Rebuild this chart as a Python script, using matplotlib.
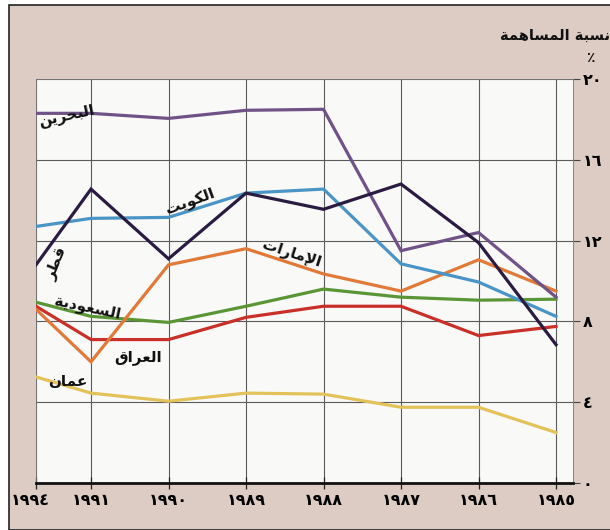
import matplotlib
matplotlib.use("Agg")
import matplotlib.pyplot as plt
import matplotlib.transforms as mtransforms
from matplotlib.patches import Rectangle

# contribution share (%) by country, 1994 first then 1991 ... 1985
years = ['١٩٩٤', '١٩٩١', '١٩٩٠', '١٩٨٩', '١٩٨٨', '١٩٨٧', '١٩٨٦', '١٩٨٥']
bahrain = [18.3, 18.3, 18.05, 18.45, 18.5, 11.5, 12.4, 9.2]
qatar = [10.8, 14.55, 11.1, 14.35, 13.55, 14.8, 11.9, 6.85]
kuwait = [12.7, 13.1, 13.15, 14.35, 14.55, 10.85, 9.95, 8.25]
uae = [8.6, 6.0, 10.8, 11.6, 10.35, 9.5, 11.05, 9.5]
saudi = [8.95, 8.25, 7.95, 8.75, 9.6, 9.2, 9.05, 9.1]
iraq = [8.75, 7.1, 7.1, 8.2, 8.75, 8.75, 7.3, 7.75]
oman = [5.25, 4.45, 4.05, 4.45, 4.4, 3.75, 3.75, 2.5]
yticks = [0, 4, 8, 12, 16, 20]
ylabels = ['٠', '٤', '٨', '١٢', '١٦', '٢٠']

# --- tiny arabic shaper: matplotlib has no RTL/joining support ---
# (isolated, final, initial, medial)
FORMS = {
    'ا': ('\uFE8D', '\uFE8E', None, None),
    'إ': ('\uFE87', '\uFE88', None, None),
    'ب': ('\uFE8F', '\uFE90', '\uFE91', '\uFE92'),
    'ة': ('\uFE93', '\uFE94', None, None),
    'ت': ('\uFE95', '\uFE96', '\uFE97', '\uFE98'),
    'ح': ('\uFEA1', '\uFEA2', '\uFEA3', '\uFEA4'),
    'د': ('\uFEA9', '\uFEAA', None, None),
    'ر': ('\uFEAD', '\uFEAE', None, None),
    'س': ('\uFEB1', '\uFEB2', '\uFEB3', '\uFEB4'),
    'ط': ('\uFEC1', '\uFEC2', '\uFEC3', '\uFEC4'),
    'ع': ('\uFEC9', '\uFECA', '\uFECB', '\uFECC'),
    'ق': ('\uFED5', '\uFED6', '\uFED7', '\uFED8'),
    'ك': ('\uFED9', '\uFEDA', '\uFEDB', '\uFEDC'),
    'ل': ('\uFEDD', '\uFEDE', '\uFEDF', '\uFEE0'),
    'م': ('\uFEE1', '\uFEE2', '\uFEE3', '\uFEE4'),
    'ن': ('\uFEE5', '\uFEE6', '\uFEE7', '\uFEE8'),
    'ه': ('\uFEE9', '\uFEEA', '\uFEEB', '\uFEEC'),
    'و': ('\uFEED', '\uFEEE', None, None),
    'ي': ('\uFEF1', '\uFEF2', '\uFEF3', '\uFEF4'),
}
LAMALEF = {'ا': ('\uFEFB', '\uFEFC'), 'إ': ('\uFEF9', '\uFEFA')}


def ar(text):
    out = []
    prev_dual = False
    i = 0
    while i < len(text):
        c = text[i]
        nxt = text[i + 1] if i + 1 < len(text) else ''
        if c == 'ل' and nxt in LAMALEF:
            out.append(LAMALEF[nxt][1 if prev_dual else 0])
            prev_dual = False
            i += 2
            continue
        if c not in FORMS:
            out.append(c)
            prev_dual = False
            i += 1
            continue
        iso, fin, ini, med = FORMS[c]
        dual = ini is not None
        joins_next = dual and nxt in FORMS
        if prev_dual and joins_next:
            out.append(med)
        elif prev_dual:
            out.append(fin)
        elif joins_next:
            out.append(ini)
        else:
            out.append(iso)
        prev_dual = dual
        i += 1
    return ''.join(reversed(out))


plt.rcParams['font.family'] = ['DejaVu Sans']

# x positions: 1994 sits closer to 1991 than the yearly spacing
xpos = [6 + 55 / 77.5, 6, 5, 4, 3, 2, 1, 0]

fig = plt.figure(figsize=(6.1, 5.3), dpi=100, facecolor='white')
fig.patches.append(Rectangle((9 / 610, 0), 1, (530 - 5) / 530, transform=fig.transFigure,
                             facecolor='#dcccc4', edgecolor='#222222', linewidth=1.2,
                             zorder=-5))
ax = fig.add_axes([36 / 610, 47 / 530, 537 / 610, 404 / 530])
ax.set_facecolor('#f9f9f8')

series = [
    (oman, '#e3c25a'),
    (iraq, '#c9302a'),
    (saudi, '#5b9636'),
    (uae, '#e17a38'),
    (kuwait, '#4b94c6'),
    (bahrain, '#6f5387'),
    (qatar, '#2a1c40'),
]
for vals, col in series:
    ax.plot(xpos, vals, color=col, linewidth=2.3, solid_joinstyle='miter', zorder=3)

ax.set_xlim(xpos[0], -17 / 77.5)
ax.set_ylim(0, 20)
ax.set_xticks(xpos)
ax.set_xticklabels(years, fontsize=11.5, fontweight='bold')
ax.set_yticks(yticks)
ax.set_yticklabels(ylabels, fontsize=11.5, fontweight='bold')
ax.yaxis.tick_right()
ax.tick_params(axis='y', direction='out', length=5, width=0.8, color='#444444', pad=2)
ax.tick_params(axis='x', direction='inout', length=8, width=0.9, color='#222222', pad=3)
ax.grid(True, color='#5a5a5a', linewidth=0.8, zorder=1)
ax.set_axisbelow(True)
for side in ['top', 'left', 'right']:
    ax.spines[side].set_color('#777777')
    ax.spines[side].set_linewidth(0.6)
ax.spines['bottom'].set_color('#111111')
ax.spines['bottom'].set_linewidth(2)

# nudge the first year label to the left
offset = mtransforms.ScaledTranslation(-6 / 100, 0, fig.dpi_scale_trans)
lab0 = ax.get_xticklabels()[0]
lab0.set_transform(lab0.get_transform() + offset)

# series names
names = [
    ('البحرين', 6.32, 18.2, 12),
    ('قطر', 6.45, 10.9, 68),
    ('الكويت', 4.72, 13.9, 20),
    ('الإمارات', 3.42, 11.3, -18),
    ('السعودية', 6.05, 8.7, -12),
    ('العراق', 5.39, 6.2, 0),
    ('عمان', 6.3, 5.0, 0),
]
for txt, x, y, rot in names:
    ax.text(x, y, ar(txt), fontsize=11, fontweight='bold', color='#111111',
            rotation=rot, ha='center', va='center', zorder=5)

fig.text(1.0, (530 - 35) / 530, ar('نسبة المساهمة'), fontsize=10.5, fontweight='bold',
         ha='right', va='center', color='#111111')
fig.text(590 / 610, (530 - 58) / 530, '٪', fontsize=10, fontweight='bold',
         ha='center', va='center', color='#111111')

fig.savefig('out.png', dpi=100, facecolor=fig.get_facecolor())
